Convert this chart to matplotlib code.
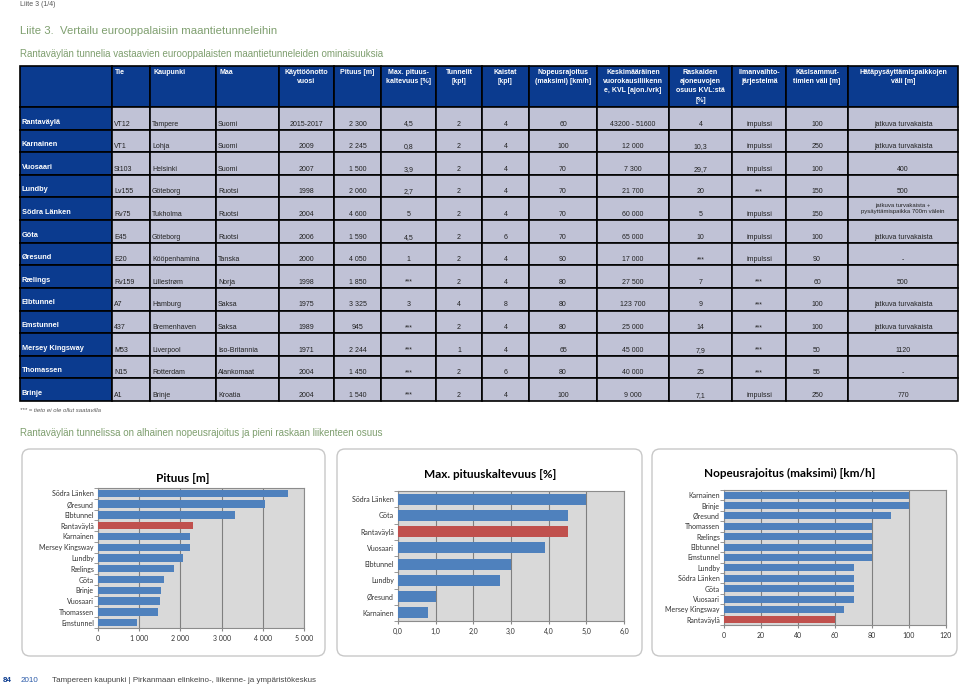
import numpy as np
import matplotlib
matplotlib.use("Agg")
import matplotlib.pyplot as plt
from matplotlib.patches import Rectangle, FancyBboxPatch

# --- table data ---
headers = ["", "Tie", "Kaupunki", "Maa", "Käyttöönotto\nvuosi", "Pituus [m]",
           "Max. pituus-\nkaltevuus [%]", "Tunnelit\n[kpl]", "Kaistat\n[kpl]",
           "Nopeusrajoitus\n(maksimi) [km/h]",
           "Keskimääräinen\nvuorokausiliikenn\ne, KVL [ajon./vrk]",
           "Raskaiden\najoneuvojen\nosuus KVL:stä\n[%]", "Ilmanvaihto-\njärjestelmä",
           "Käsisammut-\ntimien väli [m]", "Hätäpysäyttämispaikkojen\nväli [m]"]
tunnelit_nimet = ["Rantaväylä", "Karnainen", "Vuosaari", "Lundby", "Södra Länken", "Göta",
                  "Øresund", "Rælings", "Elbtunnel", "Emstunnel", "Mersey Kingsway",
                  "Thomassen", "Brinje"]
tie = ["VT12", "VT1", "St103", "Lv155", "Rv75", "E45", "E20", "Rv159", "A7", "437", "M53", "N15", "A1"]
kaupunki = ["Tampere", "Lohja", "Helsinki", "Göteborg", "Tukholma", "Göteborg", "Kööpenhamina",
            "Lillestrøm", "Hamburg", "Bremenhaven", "Liverpool", "Rotterdam", "Brinje"]
maa = ["Suomi", "Suomi", "Suomi", "Ruotsi", "Ruotsi", "Ruotsi", "Tanska", "Norja", "Saksa",
       "Saksa", "Iso-Britannia", "Alankomaat", "Kroatia"]
vuosi = ["2015-2017", "2009", "2007", "1998", "2004", "2006", "2000", "1998", "1975", "1989",
         "1971", "2004", "2004"]
pituus_txt = ["2 300", "2 245", "1 500", "2 060", "4 600", "1 590", "4 050", "1 850", "3 325",
              "945", "2 244", "1 450", "1 540"]
kaltevuus_txt = ["4,5", "0,8", "3,9", "2,7", "5", "4,5", "1", "***", "3", "***", "***", "***", "***"]
tunnelit = ["2", "2", "2", "2", "2", "2", "2", "2", "4", "2", "1", "2", "2"]
kaistat = ["4", "4", "4", "4", "4", "6", "4", "4", "8", "4", "4", "6", "4"]
nopeus_txt = ["60", "100", "70", "70", "70", "70", "90", "80", "80", "80", "65", "80", "100"]
kvl = ["43200 - 51600", "12 000", "7 300", "21 700", "60 000", "65 000", "17 000", "27 500",
       "123 700", "25 000", "45 000", "40 000", "9 000"]
raskas = ["4", "10,3", "29,7", "20", "5", "10", "***", "7", "9", "14", "7,9", "25", "7,1"]
ilma = ["impulssi", "impulssi", "impulssi", "***", "impulssi", "impulssi", "impulssi", "***",
        "***", "***", "***", "***", "impulssi"]
sammut = ["100", "250", "100", "150", "150", "100", "90", "60", "100", "100", "50", "55", "250"]
hata = ["jatkuva turvakaista", "jatkuva turvakaista", "400", "500",
        "jatkuva turvakaista +\npysäyttämispaikka 700m välein", "jatkuva turvakaista", "-",
        "500", "jatkuva turvakaista", "jatkuva turvakaista", "1120", "-", "770"]

# --- chart data ---
pit_nimet = ["Södra Länken", "Øresund", "Elbtunnel", "Rantaväylä", "Karnainen", "Mersey Kingsway",
             "Lundby", "Rælings", "Göta", "Brinje", "Vuosaari", "Thomassen", "Emstunnel"]
pit_arvot = [4600, 4050, 3325, 2300, 2245, 2244, 2060, 1850, 1590, 1540, 1500, 1450, 945]
kal_nimet = ["Södra Länken", "Göta", "Rantaväylä", "Vuosaari", "Elbtunnel", "Lundby",
             "Øresund", "Karnainen"]
kal_arvot = [5.0, 4.5, 4.5, 3.9, 3.0, 2.7, 1.0, 0.8]
nop_nimet = ["Karnainen", "Brinje", "Øresund", "Thomassen", "Rælings", "Elbtunnel", "Emstunnel",
             "Lundby", "Södra Länken", "Göta", "Vuosaari", "Mersey Kingsway", "Rantaväylä"]
nop_arvot = [100, 100, 90, 80, 80, 80, 80, 70, 70, 70, 70, 65, 60]

W, H = 960, 687
BLUE = "#0b3b8f"
CELL = "#c0c2d6"
GREEN = "#7f9f6f"
TFONT = ["Liberation Sans", "DejaVu Sans"]

fig = plt.figure(figsize=(9.6, 6.87), dpi=100)
bg = fig.add_axes([0, 0, 1, 1])
bg.set_xlim(0, W)
bg.set_ylim(H, 0)
bg.axis("off")

def t(x, y, s, **kw):
    kw.setdefault("family", TFONT)
    bg.text(x, y, s, **kw)

t(20, 5, "Liite 3 (1/4)", fontsize=5, color="#555555", va="center")
t(20, 31, "Liite 3.  Vertailu eurooppalaisiin maantietunneleihin", fontsize=8.2, color=GREEN, va="center")
t(20, 54, "Rantaväylän tunnelia vastaavien eurooppalaisten maantietunneleiden ominaisuuksia",
  fontsize=7, color=GREEN, va="center")

# table geometry
col_x = [20, 112, 150, 216, 279, 334, 381, 436, 482, 529, 597, 669, 732, 786, 848, 958]
head_top, head_bot = 66, 107
row_h = (401 - head_bot) / len(tunnelit_nimet)
left_cols = {1, 2, 3}

for j in range(len(headers)):
    x0, x1 = col_x[j], col_x[j + 1]
    bg.add_patch(Rectangle((x0, head_top), x1 - x0, head_bot - head_top, facecolor=BLUE,
                           edgecolor="black", lw=1.2))
    if j in left_cols:
        t(x0 + 3, head_top + 3, headers[j], fontsize=5, color="white", weight="bold", va="top")
    elif j > 0:
        t((x0 + x1) / 2, head_top + 3, headers[j], fontsize=5, color="white", weight="bold",
          va="top", ha="center", linespacing=1.45)

columns = [tie, kaupunki, maa, vuosi, pituus_txt, kaltevuus_txt, tunnelit, kaistat, nopeus_txt,
           kvl, raskas, ilma, sammut, hata]
for i, name in enumerate(tunnelit_nimet):
    y0 = head_bot + i * row_h
    bg.add_patch(Rectangle((col_x[0], y0), col_x[1] - col_x[0], row_h, facecolor=BLUE,
                           edgecolor="black", lw=1.2))
    t(col_x[0] + 2, y0 + 15, name, fontsize=5.3, color="white", weight="bold", va="center")
    for j, col in enumerate(columns, start=1):
        x0, x1 = col_x[j], col_x[j + 1]
        bg.add_patch(Rectangle((x0, y0), x1 - x0, row_h, facecolor=CELL, edgecolor="black", lw=1.2))
        s = col[i]
        if "\n" in s:
            t((x0 + x1) / 2, y0 + 11, s, fontsize=4.3, color="#222222", va="center", ha="center",
              linespacing=1.4)
        elif j in left_cols:
            t(x0 + 2, y0 + 17, s, fontsize=5, color="#222222", va="center")
        else:
            t((x0 + x1) / 2, y0 + 17, s, fontsize=5, color="#222222", va="center", ha="center")

t(20, 411, "*** = tieto ei ole ollut saatavilla", fontsize=4.3, style="italic", color="#555555",
  va="center")
t(20, 433, "Rantaväylän tunnelissa on alhainen nopeusrajoitus ja pieni raskaan liikenteen osuus",
  fontsize=7, color=GREEN, va="center")

# chart panels
for x0, x1 in [(22, 325), (337, 642), (652, 957)]:
    bg.add_patch(FancyBboxPatch((x0, 449), x1 - x0, 656 - 449,
                                boxstyle="round,pad=0,rounding_size=8",
                                facecolor="white", edgecolor="#c8c8c8", lw=1))

# footer
t(3, 681, "84", fontsize=5.8, color=BLUE, weight="bold", va="center")
t(21, 681, "2010", fontsize=5.8, color="#2a5aa8", va="center")
t(52, 681, "Tampereen kaupunki | Pirkanmaan elinkeino-, liikenne- ja ympäristökeskus",
  fontsize=5.8, color="#444444", va="center")

CFONT = ["Lato", "DejaVu Sans"]

def bar_chart(box, title, title_xy, names, values, xmax, step, fmt):
    l, tp, r, b = box
    ax = fig.add_axes([l / W, 1 - b / H, (r - l) / W, (b - tp) / H])
    n = len(names)
    y = np.arange(n)
    colors = ["#c0504d" if nm == "Rantaväylä" else "#4f81bd" for nm in names]
    ax.barh(y, values, height=0.68, color=colors, zorder=3)
    ax.set_facecolor("#d9d9d9")
    ax.set_xlim(0, xmax)
    ax.set_ylim(n - 0.5, -0.5)
    ticks = np.arange(0, xmax + step / 2, step)
    ax.set_xticks(ticks)
    ax.set_xticklabels([fmt(v) for v in ticks], family=CFONT, fontsize=5, color="#333333")
    ax.set_yticks(y)
    ax.set_yticklabels(names, family=CFONT, fontsize=5, color="#333333")
    ax.set_yticks(np.arange(n + 1) - 0.5, minor=True)
    ax.tick_params(axis="y", which="major", length=0, pad=3)
    ax.tick_params(axis="y", which="minor", length=3, color="#888888")
    ax.tick_params(axis="x", length=2, color="#888888", pad=3)
    ax.grid(axis="x", color="#7f7f7f", lw=0.8, zorder=1)
    for sp in ax.spines.values():
        sp.set_color("#8c8c8c")
        sp.set_linewidth(0.8)
    t(title_xy[0], title_xy[1], title, family=CFONT, fontsize=8.5, weight="bold",
      ha="center", va="center", color="black")
    return ax

bar_chart((98, 488, 304, 628), "Pituus [m]", (183, 478), pit_nimet, pit_arvot, 5000, 1000,
          lambda v: f"{int(v):,}".replace(",", " "))
bar_chart((398, 491, 624, 621), "Max. pituuskaltevuus [%]", (490, 475), kal_nimet, kal_arvot,
          6, 1, lambda v: f"{v:.1f}".replace(".", ","))
bar_chart((724, 490, 946, 625), "Nopeusrajoitus (maksimi) [km/h]", (790, 473), nop_nimet,
          nop_arvot, 120, 20, lambda v: f"{int(v)}")

fig.savefig("out.png", dpi=100)
